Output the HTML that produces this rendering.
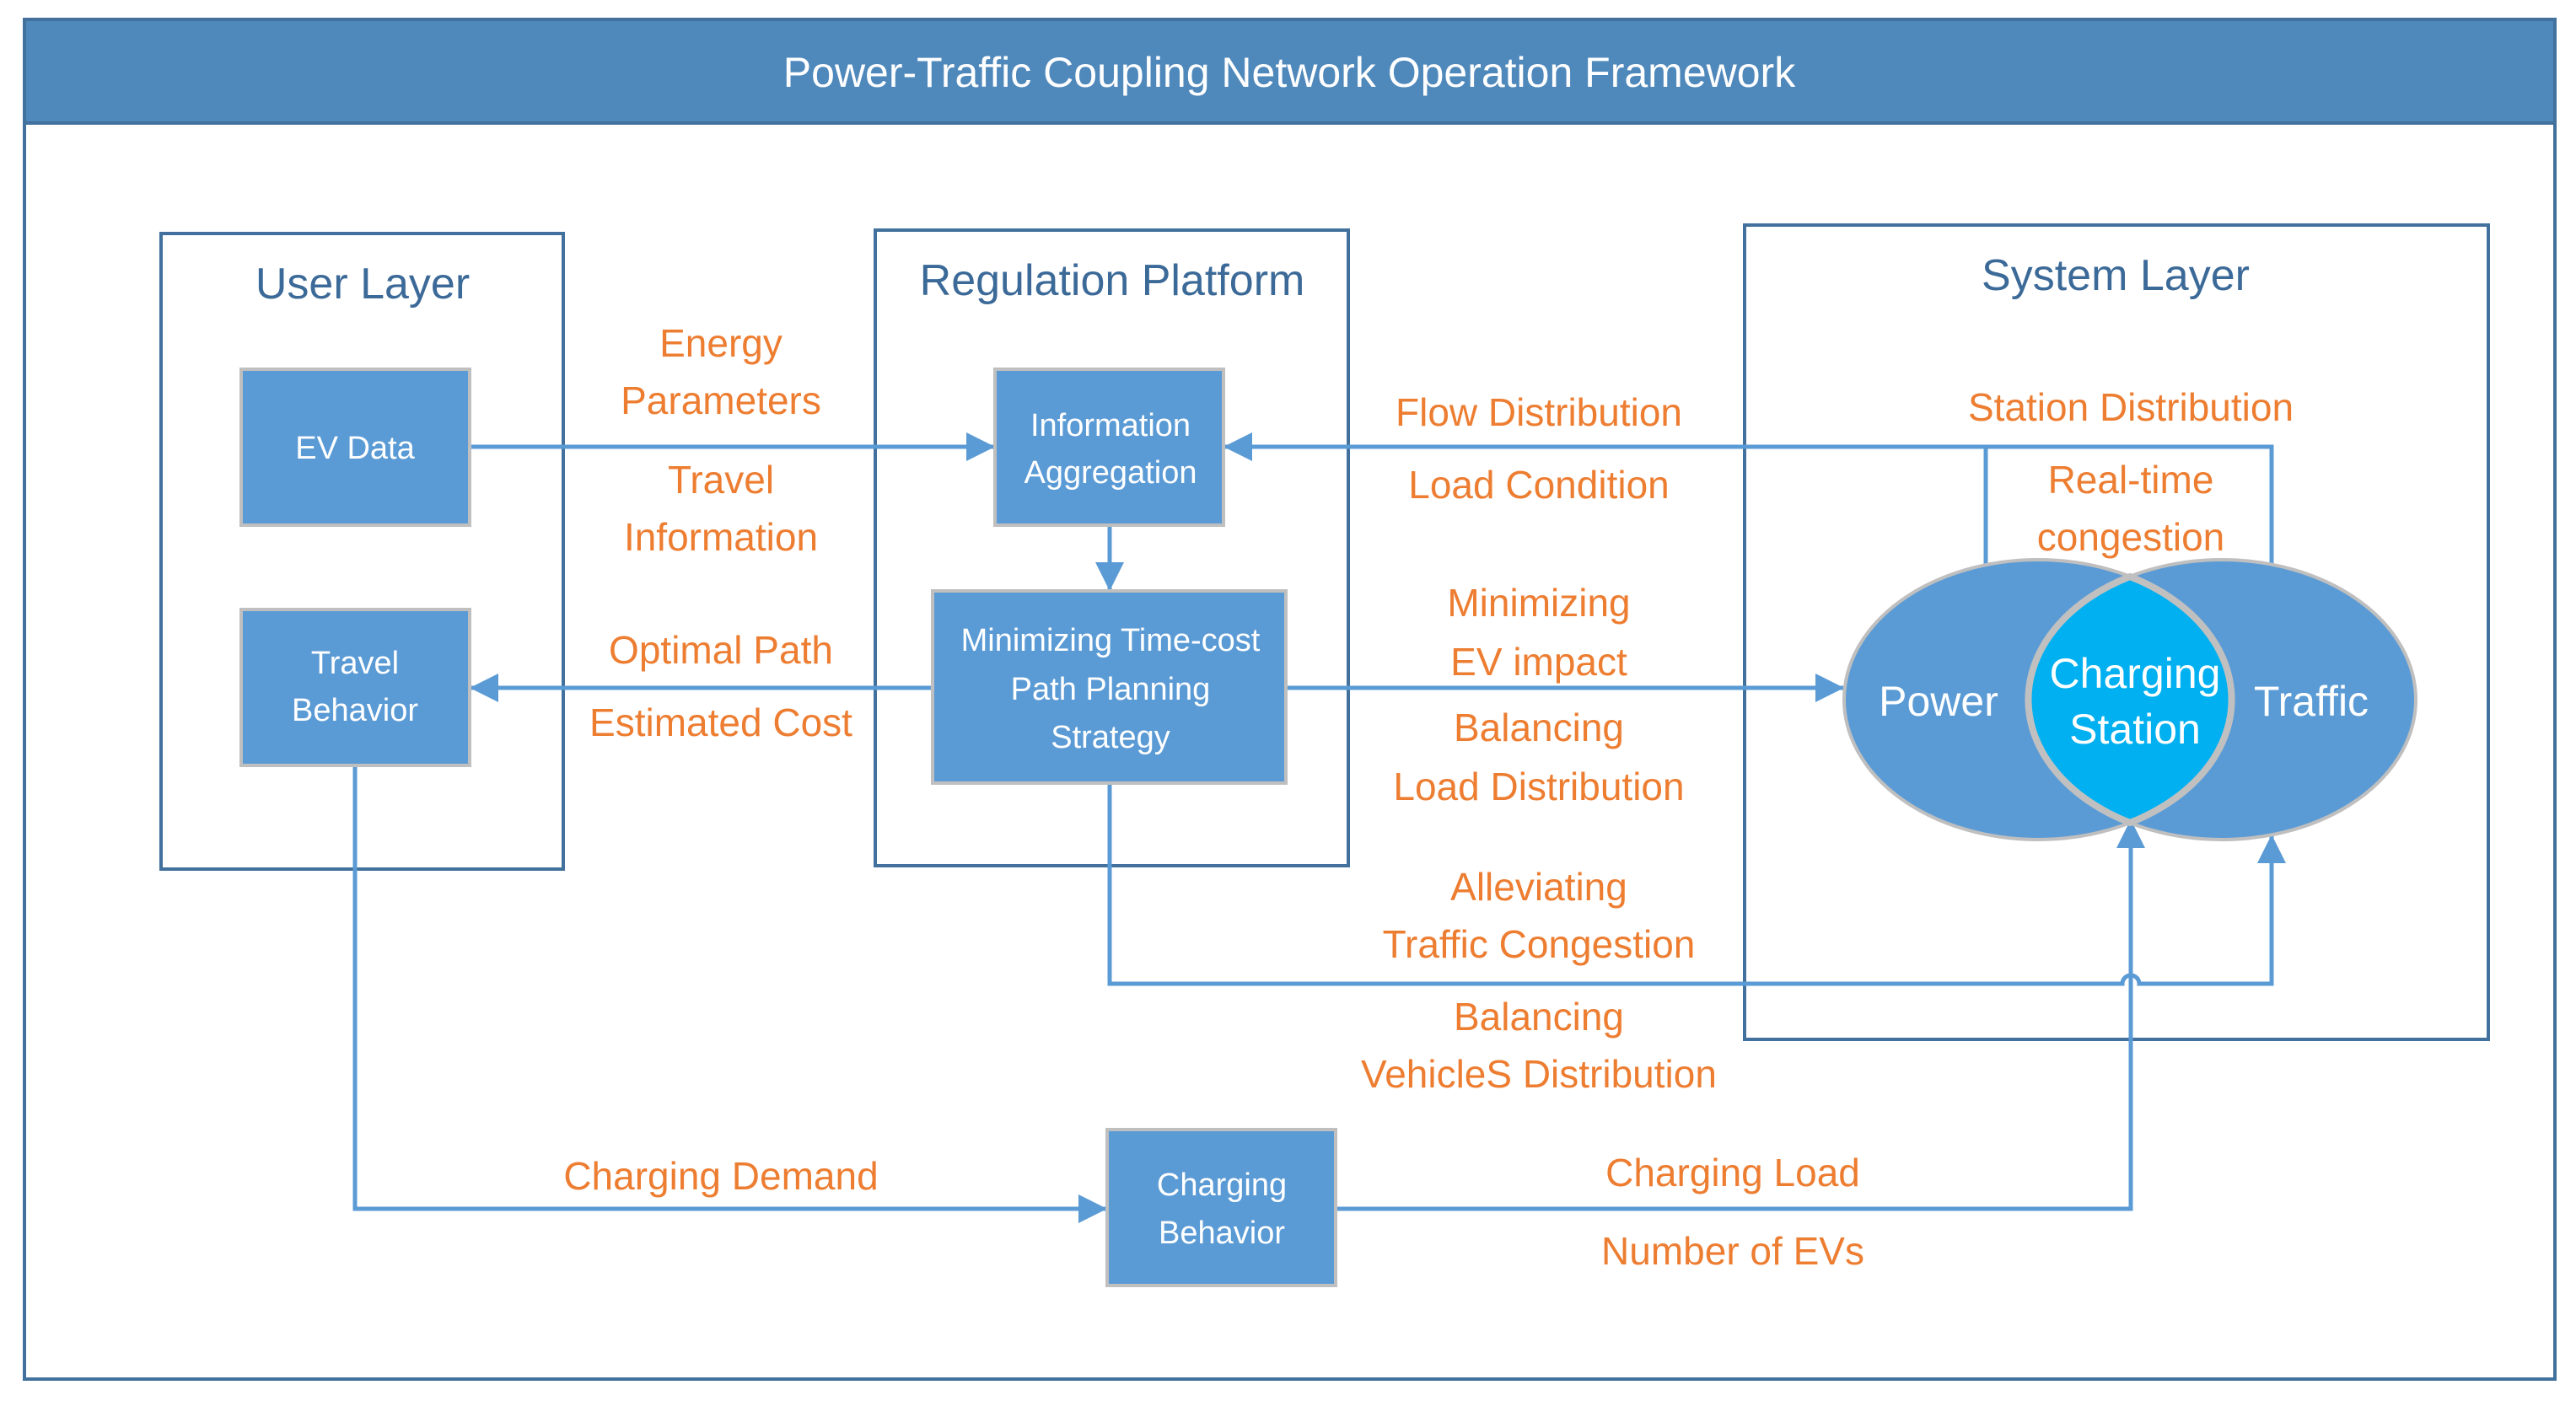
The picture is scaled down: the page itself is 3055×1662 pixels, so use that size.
<!DOCTYPE html>
<html><head><meta charset="utf-8"><style>
html,body{margin:0;padding:0;background:#fff;}
svg{display:block;}
text{font-family:"Liberation Sans Narrow","Liberation Sans",sans-serif;}
.o{fill:#ed7d31;font-size:46px;text-anchor:middle;dominant-baseline:central;}
.w{fill:#fff;font-size:38px;text-anchor:middle;dominant-baseline:central;}
.v{fill:#fff;font-size:50px;text-anchor:middle;dominant-baseline:central;}
.t{fill:#3c6a98;font-size:52px;text-anchor:middle;dominant-baseline:central;}
.box{fill:#5b9bd5;stroke:#bfbfbf;stroke-width:4;}
.lay{fill:none;stroke:#41719c;stroke-width:4;}
.ln{fill:none;stroke:#5b9bd5;stroke-width:5;}
</style></head><body>
<svg width="3055" height="1662" viewBox="0 0 3055 1662" xmlns="http://www.w3.org/2000/svg">
<defs>
<marker id="a" markerUnits="userSpaceOnUse" markerWidth="36" markerHeight="34" refX="34" refY="17" orient="auto">
<path d="M0 0 L34 17 L0 34 Z" fill="#5b9bd5"/>
</marker>
</defs>
<rect x="0" y="0" width="3055" height="1662" fill="#fff"/>
<rect x="29" y="23" width="3001" height="1613" fill="#fff" stroke="#41719c" stroke-width="4"/>
<rect x="29" y="23" width="3001" height="123" fill="#4f88bb" stroke="#41719c" stroke-width="4"/>
<text x="1529" y="86" fill="#fff" font-size="50" text-anchor="middle" dominant-baseline="central">Power-Traffic Coupling Network  Operation Framework</text>

<rect class="lay" x="191" y="277" width="477" height="754"/>
<text class="t" x="430" y="337">User Layer</text>
<rect class="lay" x="1038" y="273" width="561" height="754"/>
<text class="t" x="1319" y="333">Regulation Platform</text>
<rect class="lay" x="2069" y="267" width="882" height="966"/>
<text class="t" x="2509" y="327">System Layer</text>

<!-- connectors -->
<path class="ln" d="M557 530 H1180" marker-end="url(#a)"/>
<path class="ln" d="M2694 669 V530 H1451" marker-end="url(#a)"/>
<path class="ln" d="M2355 669 V530"/>
<path class="ln" d="M1316 623 V701" marker-end="url(#a)"/>
<path class="ln" d="M1106 816 H557" marker-end="url(#a)"/>
<path class="ln" d="M1525 816 H2187" marker-end="url(#a)"/>
<path class="ln" d="M1316 929 V1167 H2517 A10 10 0 0 1 2537 1167 H2694 V990" marker-end="url(#a)"/>
<path class="ln" d="M421 908 V1434 H1313" marker-end="url(#a)"/>
<path class="ln" d="M1584 1434 H2527 V972" marker-end="url(#a)"/>

<!-- boxes -->
<rect class="box" x="286" y="438" width="271" height="185"/>
<text class="w" x="421" y="532">EV Data</text>
<rect class="box" x="286" y="723" width="271" height="185"/>
<text class="w" x="421" y="787">Travel</text>
<text class="w" x="421" y="843">Behavior</text>
<rect class="box" x="1180" y="438" width="271" height="185"/>
<text class="w" x="1317" y="505">Information</text>
<text class="w" x="1317" y="561">Aggregation</text>
<rect class="box" x="1106" y="701" width="419" height="228"/>
<text class="w" x="1317" y="760">Minimizing Time-cost</text>
<text class="w" x="1317" y="818">Path Planning</text>
<text class="w" x="1317" y="875">Strategy</text>
<rect class="box" x="1313" y="1340" width="271" height="185"/>
<text class="w" x="1449" y="1406">Charging</text>
<text class="w" x="1449" y="1463">Behavior</text>

<!-- venn -->
<ellipse cx="2417" cy="830" rx="230" ry="166" fill="#5b9bd5" stroke="#bfbfbf" stroke-width="4"/>
<ellipse cx="2635" cy="830" rx="230" ry="166" fill="#5b9bd5" stroke="#bfbfbf" stroke-width="4"/>
<path d="M2526 684 A230 166 0 0 1 2526 976 A230 166 0 0 1 2526 684 Z" fill="#00b0f0" stroke="#c0c0c0" stroke-width="8"/>
<text class="v" x="2299" y="832">Power</text>
<text class="v" x="2532" y="799">Charging</text>
<text class="v" x="2532" y="865">Station</text>
<text class="v" x="2741" y="832">Traffic</text>

<!-- labels -->
<text class="o" x="855" y="407">Energy</text>
<text class="o" x="855" y="475">Parameters</text>
<text class="o" x="855" y="569">Travel</text>
<text class="o" x="855" y="637">Information</text>
<text class="o" x="855" y="771">Optimal Path</text>
<text class="o" x="855" y="857">Estimated Cost</text>
<text class="o" x="1825" y="489">Flow Distribution</text>
<text class="o" x="1825" y="575">Load Condition</text>
<text class="o" x="2527" y="483">Station Distribution</text>
<text class="o" x="2527" y="569">Real-time</text>
<text class="o" x="2527" y="637">congestion</text>
<text class="o" x="1825" y="715">Minimizing</text>
<text class="o" x="1825" y="785">EV impact</text>
<text class="o" x="1825" y="863">Balancing</text>
<text class="o" x="1825" y="933">Load Distribution</text>
<text class="o" x="1825" y="1052">Alleviating</text>
<text class="o" x="1825" y="1120">Traffic Congestion</text>
<text class="o" x="1825" y="1206">Balancing</text>
<text class="o" x="1825" y="1274">VehicleS Distribution</text>
<text class="o" x="855" y="1395">Charging Demand</text>
<text class="o" x="2055" y="1391">Charging Load</text>
<text class="o" x="2055" y="1484">Number of EVs</text>
</svg>
</body></html>
